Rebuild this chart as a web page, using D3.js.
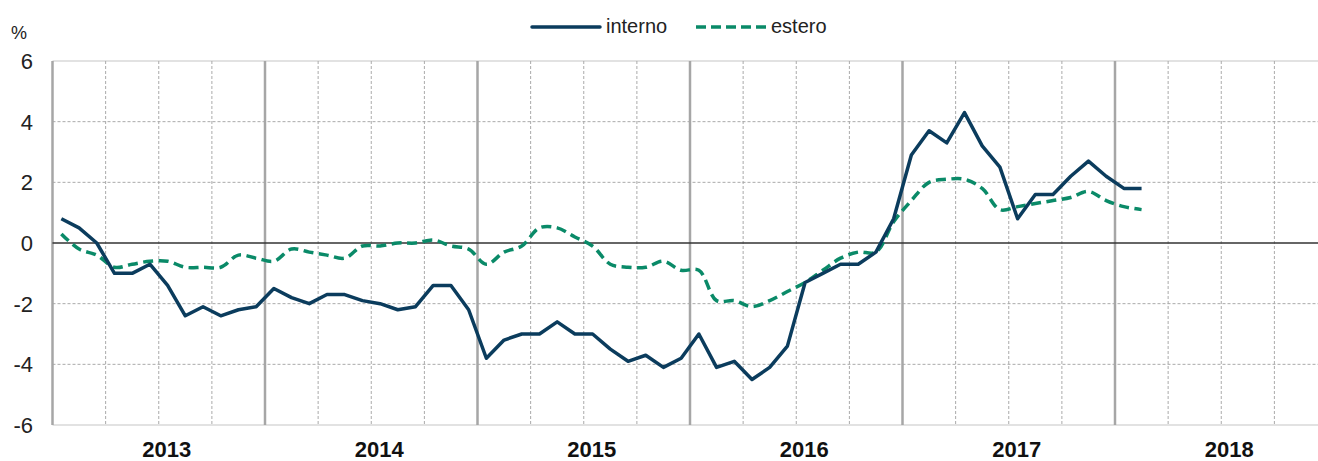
<!DOCTYPE html>
<meta charset="utf-8">
<script src="https://d3js.org/d3.v7.min.js"></script>
<style>
  body { margin: 0; background: #fff; }
  text { font-family: "Liberation Sans", Arial, sans-serif; fill: #222; }
</style>
<body>
<svg id="chart"></svg>

<script>
    // data: monthly values, Jan 2013 - Feb 2018
    const years = ["2013", "2014", "2015", "2016", "2017", "2018"];
    const yTicks = [-6, -4, -2, 0, 2, 4, 6];
    const seriesNames = ["interno", "estero"];

    const interno = [
        0.8, 0.5, 0.0, -1.0, -1.0, -0.7, -1.4, -2.4, -2.1, -2.4, -2.2, -2.1,
        -1.5, -1.8, -2.0, -1.7, -1.7, -1.9, -2.0, -2.2, -2.1, -1.4, -1.4, -2.2,
        -3.8, -3.2, -3.0, -3.0, -2.6, -3.0, -3.0, -3.5, -3.9, -3.7, -4.1, -3.8,
        -3.0, -4.1, -3.9, -4.5, -4.1, -3.4, -1.3, -1.0, -0.7, -0.7, -0.3, 0.8,
        2.9, 3.7, 3.3, 4.3, 3.2, 2.5, 0.8, 1.6, 1.6, 2.2, 2.7, 2.2,
        1.8, 1.8
    ];
    const estero = [
        0.3, -0.2, -0.4, -0.8, -0.7, -0.6, -0.6, -0.8, -0.8, -0.8, -0.4, -0.5,
        -0.6, -0.2, -0.3, -0.4, -0.5, -0.1, -0.1, 0.0, 0.0, 0.1, -0.1, -0.2,
        -0.7, -0.3, -0.1, 0.5, 0.5, 0.2, -0.1, -0.7, -0.8, -0.8, -0.6, -0.9,
        -0.9, -1.9, -1.9, -2.1, -1.9, -1.6, -1.3, -0.9, -0.5, -0.3, -0.3, 0.7,
        1.4, 2.0, 2.1, 2.1, 1.8, 1.1, 1.2, 1.3, 1.4, 1.5, 1.7, 1.4,
        1.2, 1.1
    ];

    const width = 1318, height = 461;
    const svg = d3.select("#chart").attr("width", width).attr("height", height);

    // plot area (right edge runs past the picture, as in the original)
    const plotL = 52.5, plotR = 1327.5, plotT = 61, plotB = 425;
    const nMonths = years.length * 12;

    const x = d3.scaleLinear().domain([0, nMonths]).range([plotL, plotR]);
    const y = d3.scaleLinear().domain([-6, 6]).range([plotB, plotT]);

    // horizontal grid
    svg.append("g")
        .selectAll("line")
        .data(yTicks.filter(d => d !== 0))
        .join("line")
            .attr("x1", plotL).attr("x2", plotR)
            .attr("y1", d => y(d)).attr("y2", d => y(d))
            .attr("stroke", d => (d === 6 || d === -6) ? "#d9d9d9" : "#aaa")
            .attr("stroke-width", d => (d === 6 || d === -6) ? 1.5 : 1)
            .attr("stroke-dasharray", d => (d === 6 || d === -6) ? null : "3,2");

    // vertical grid: quarters dashed, years solid
    const quarters = d3.range(3, nMonths, 3).filter(m => m % 12 !== 0);
    svg.append("g")
        .selectAll("line")
        .data(quarters)
        .join("line")
            .attr("x1", d => x(d)).attr("x2", d => x(d))
            .attr("y1", plotT).attr("y2", plotB)
            .attr("stroke", "#aaa")
            .attr("stroke-width", 1)
            .attr("stroke-dasharray", "3,2");

    svg.append("g")
        .selectAll("line")
        .data(d3.range(0, nMonths, 12))
        .join("line")
            .attr("x1", d => x(d)).attr("x2", d => x(d))
            .attr("y1", plotT).attr("y2", plotB)
            .attr("stroke", "#a6a6a6")
            .attr("stroke-width", 2.5);

    // zero line
    svg.append("line")
        .attr("x1", plotL).attr("x2", plotR)
        .attr("y1", y(0)).attr("y2", y(0))
        .attr("stroke", "#333")
        .attr("stroke-width", 1.5);

    // y tick labels
    svg.append("g")
        .selectAll("text")
        .data(yTicks)
        .join("text")
            .attr("x", 33)
            .attr("y", d => y(d) + 8)
            .attr("text-anchor", "end")
            .style("font-size", "22px")
            .text(d => d);

    svg.append("text")
        .attr("x", 11).attr("y", 39)
        .style("font-size", "18px")
        .text("%");

    // year labels
    svg.append("g")
        .selectAll("text")
        .data(years)
        .join("text")
            .attr("x", (d, i) => x(i * 12 + 6) + 8)
            .attr("y", 457)
            .attr("text-anchor", "middle")
            .style("font-size", "22px")
            .style("font-weight", "bold")
            .style("fill", "#111")
            .text(d => d);

    // lines
    const lineInt = d3.line()
        .x((d, i) => x(i + 0.5))
        .y(d => y(d));
    const lineEst = d3.line()
        .x((d, i) => x(i + 0.5))
        .y(d => y(d))
        .curve(d3.curveCatmullRom.alpha(0.5));

    svg.append("path")
        .datum(estero)
        .attr("fill", "none")
        .attr("stroke", "#0a8a68")
        .attr("stroke-width", 3.5)
        .attr("stroke-dasharray", "10,5.5")
        .attr("d", lineEst);

    svg.append("path")
        .datum(interno)
        .attr("fill", "none")
        .attr("stroke", "#0b3c5d")
        .attr("stroke-width", 3.5)
        .attr("stroke-linejoin", "round")
        .attr("d", lineInt);

    // legend
    const legend = svg.append("g");
    legend.append("line")
        .attr("x1", 532).attr("x2", 600).attr("y1", 27).attr("y2", 27)
        .attr("stroke", "#0b3c5d").attr("stroke-width", 3.5).attr("stroke-linecap", "round");
    legend.append("text")
        .attr("x", 606).attr("y", 33)
        .style("font-size", "20px")
        .text(seriesNames[0]);
    legend.append("line")
        .attr("x1", 696).attr("x2", 766).attr("y1", 27).attr("y2", 27)
        .attr("stroke", "#0a8a68").attr("stroke-width", 3.5).attr("stroke-dasharray", "10,5");
    legend.append("text")
        .attr("x", 771).attr("y", 33)
        .style("font-size", "20px")
        .text(seriesNames[1]);
</script>
</body>
